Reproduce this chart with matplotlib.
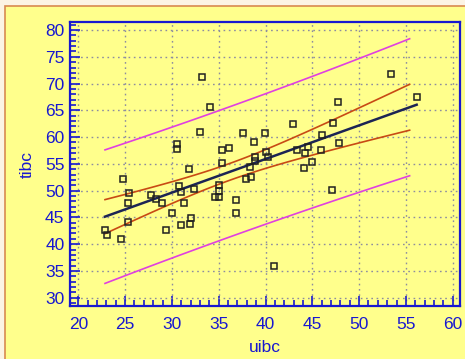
import numpy as np
import matplotlib.pyplot as plt
from matplotlib.patches import Rectangle
from matplotlib.ticker import MultipleLocator

plt.rcParams['font.family'] = ['Liberation Sans', 'DejaVu Sans']

# iron study: unsaturated vs total iron binding capacity
uibc = [22.85, 23.07, 24.6, 24.8, 25.45, 25.3, 25.3, 27.8, 28.3, 28.95,
        29.37, 30.0, 30.55, 30.55, 30.76, 30.97, 31.3, 30.94, 31.8, 32.0,
        31.97, 32.4, 33.0, 33.18, 34.1, 34.6, 35.0, 35.0, 35.05, 35.3,
        35.3, 36.1, 36.8, 36.8, 37.6, 37.9, 38.5, 38.3, 38.8, 38.85,
        38.85, 39.9, 40.05, 40.3, 40.9, 42.9, 43.4, 44.1, 44.2, 44.5,
        45.0, 45.9, 46.0, 47.1, 47.2, 47.7, 47.8, 53.4, 56.15]
tibc = [42.6, 41.8, 41.0, 52.2, 49.55, 47.7, 44.1, 49.2, 48.5, 47.7,
        42.6, 45.8, 58.8, 57.8, 50.9, 49.7, 47.6, 43.6, 54.1, 44.8,
        43.8, 50.3, 61.0, 71.3, 65.7, 48.9, 51.0, 50.0, 48.9, 57.5,
        55.2, 57.9, 48.3, 45.8, 60.8, 52.1, 52.5, 54.4, 59.1, 56.3,
        55.6, 60.8, 57.3, 56.2, 36.0, 62.4, 57.6, 54.2, 57.0, 58.2,
        55.4, 57.6, 60.3, 50.2, 62.7, 66.5, 58.9, 71.8, 67.5]

x = np.array(uibc)
y = np.array(tibc)
n = len(x)

# least squares fit with 95% confidence and prediction bands
slope, intercept = np.polyfit(x, y, 1)
resid = y - (intercept + slope * x)
s = np.sqrt(np.sum(resid ** 2) / (n - 2))
t95 = 2.002
sxx = np.sum((x - x.mean()) ** 2)

xf = np.linspace(x.min(), x.max(), 100)
yf = intercept + slope * xf
xb = np.linspace(x.min(), 55.4, 100)
yb = intercept + slope * xb
conf = t95 * s * np.sqrt(1 / n + (xb - x.mean()) ** 2 / sxx)
pred = t95 * s * np.sqrt(1 + 1 / n + (xb - x.mean()) ** 2 / sxx)

fig = plt.figure(figsize=(4.65, 3.59), dpi=100, facecolor='#fcf4e4')
fig.patches.append(Rectangle((5 / 465, -0.01), 1.0, (359 - 6) / 359 + 0.01,
                             transform=fig.transFigure, facecolor='#ffff8c',
                             edgecolor='#d88a50', linewidth=1.2, zorder=-10))

ax = fig.add_axes([70 / 465, 53 / 359, 390 / 465, 284 / 359])
ax.set_zorder(1)
ax.set_facecolor('#ffff8c')

blue = '#1818d0'
ax.plot(xb, yb + pred, color='#e040e0', lw=1.2)
ax.plot(xb, yb - pred, color='#e040e0', lw=1.2)
ax.plot(xb, yb + conf, color='#c84a14', lw=1.2)
ax.plot(xb, yb - conf, color='#c84a14', lw=1.2)
ax.plot(xf, yf, color='#1c2454', lw=1.8)
ax.plot(x, y, ls='none', marker='s', ms=4.6, mfc='none', mec='#202020', mew=1.1)

ax.set_xlim(19.11, 60.78)
ax.set_ylim(28.45, 81.5)
ax.xaxis.set_major_locator(MultipleLocator(5))
ax.xaxis.set_minor_locator(MultipleLocator(1))
ax.yaxis.set_major_locator(MultipleLocator(5))
ax.yaxis.set_minor_locator(MultipleLocator(1))
ax.tick_params(which='both', direction='in', color=blue, width=1.2,
               labelcolor=blue, labelsize=12.5)
ax.tick_params(which='major', length=7)
ax.tick_params(which='minor', length=4)
ax.tick_params(axis='x', pad=8)
ax.tick_params(axis='y', pad=4)
for sp in ax.spines.values():
    sp.set_color(blue)
    sp.set_linewidth(1.6)
ax.grid(True, which='major', color='#8c8ca0', ls=(0, (1.2, 2.6)), lw=1.0)
ax.set_axisbelow(True)

ax.set_xlabel('uibc', color=blue, fontsize=12.5, labelpad=6)
ax.set_ylabel('tibc', color=blue, fontsize=12.5, labelpad=7)

fig.savefig('out.png', dpi=100, facecolor=fig.get_facecolor())
